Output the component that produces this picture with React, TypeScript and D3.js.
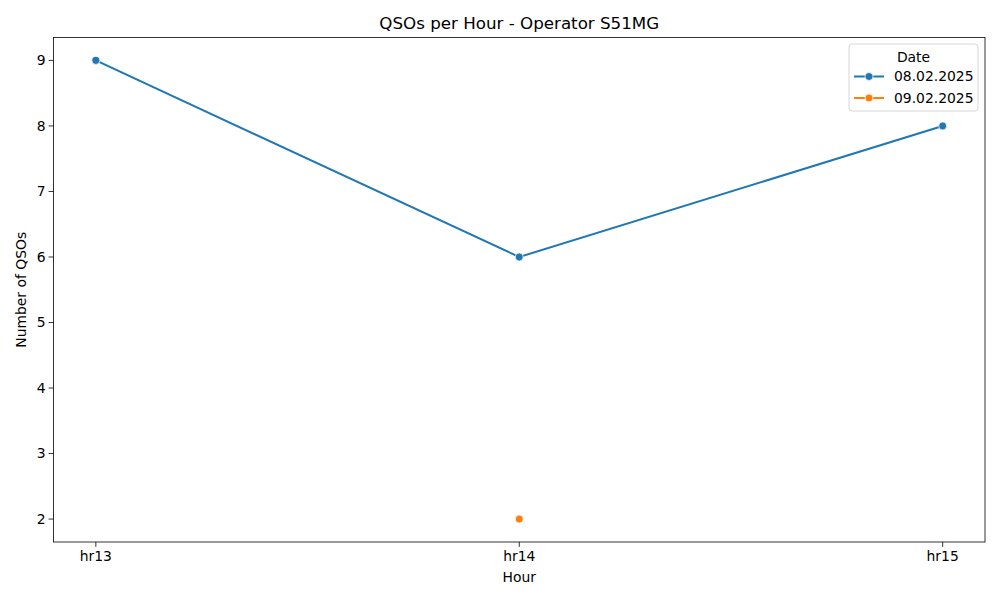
import React from 'react';
import * as d3 from 'd3';

const hours = ['hr13', 'hr14', 'hr15'];
const dates = ['08.02.2025', '09.02.2025'];
const colors = ['#1f77b4', '#ff7f0e'];
// values per date, null where no data
const series08: (number | null)[] = [9, 6, 8];
const series09: (number | null)[] = [null, 2, null];
const yTicks = [2, 3, 4, 5, 6, 7, 8, 9];

const W = 1000;
const H = 600;
const m = { left: 53.5, right: 985, top: 37.5, bottom: 542 };

const App: React.FC = () => {
  const x = d3.scaleLinear().domain([-0.1, 2.1]).range([m.left, m.right]);
  const y = d3.scaleLinear().domain([1.65, 9.35]).range([m.bottom, m.top]);
  const font = 'DejaVu Sans, sans-serif';
  const allSeries = [series08, series09];

  const line = d3.line<[number, number | null]>()
    .defined(d => d[1] !== null)
    .x(d => x(d[0]))
    .y(d => y(d[1] as number));

  return (
    <svg width={W} height={H} style={{ display: 'block', position: 'absolute', left: 0, top: 0 }} fontFamily={font}>
      <rect width={W} height={H} fill="#fff" />
      <text x={(m.left + m.right) / 2} y={29} textAnchor="middle" fontSize={16.7} fill="#000">
        QSOs per Hour - Operator S51MG
      </text>

      {/* y ticks */}
      {yTicks.map(t => (
        <g key={t}>
          <line x1={m.left - 4.9} x2={m.left} y1={y(t)} y2={y(t)} stroke="#000" strokeWidth={0.8} />
          <text x={m.left - 8} y={y(t)} dy="0.35em" textAnchor="end" fontSize={13.9} fill="#000">{t}</text>
        </g>
      ))}
      {/* x ticks */}
      {hours.map((h, i) => (
        <g key={h}>
          <line x1={x(i)} x2={x(i)} y1={m.bottom} y2={m.bottom + 4.9} stroke="#000" strokeWidth={0.8} />
          <text x={x(i)} y={m.bottom + 19} textAnchor="middle" fontSize={13.9} fill="#000">{h}</text>
        </g>
      ))}

      <text x={(m.left + m.right) / 2} y={582} textAnchor="middle" fontSize={13.9} fill="#000">Hour</text>
      <text transform={`translate(26,${(m.top + m.bottom) / 2}) rotate(-90)`} textAnchor="middle" fontSize={13.9} fill="#000">
        Number of QSOs
      </text>

      {/* series */}
      {allSeries.map((s, si) => (
        <g key={dates[si]}>
          <path d={line(s.map((v, i) => [i, v] as [number, number | null])) || ''} fill="none" stroke={colors[si]} strokeWidth={2} />
          {s.map((v, i) => v === null ? null : (
            <circle key={i} cx={x(i)} cy={y(v)} r={4} fill={colors[si]} stroke="#fff" strokeWidth={0.75} />
          ))}
        </g>
      ))}

      <rect x={m.left} y={m.top} width={m.right - m.left} height={m.bottom - m.top} fill="none" stroke="#000" strokeWidth={0.8} />

      {/* legend */}
      <g>
        <rect x={849} y={44} width={129} height={67} rx={3} fill="#fff" fillOpacity={0.8} stroke="#ccc" strokeWidth={0.8} />
        <text x={913.5} y={61.5} textAnchor="middle" fontSize={13.9} fill="#000">Date</text>
        {dates.map((d, i) => {
          const ly = 76.5 + i * 21.5;
          return (
            <g key={d}>
              <line x1={854} x2={884} y1={ly} y2={ly} stroke={colors[i]} strokeWidth={2} />
              <circle cx={869} cy={ly} r={4} fill={colors[i]} stroke="#fff" strokeWidth={0.75} />
              <text x={894} y={ly} dy="0.35em" fontSize={13.9} fill="#000">{d}</text>
            </g>
          );
        })}
      </g>
    </svg>
  );
};

export default App;
